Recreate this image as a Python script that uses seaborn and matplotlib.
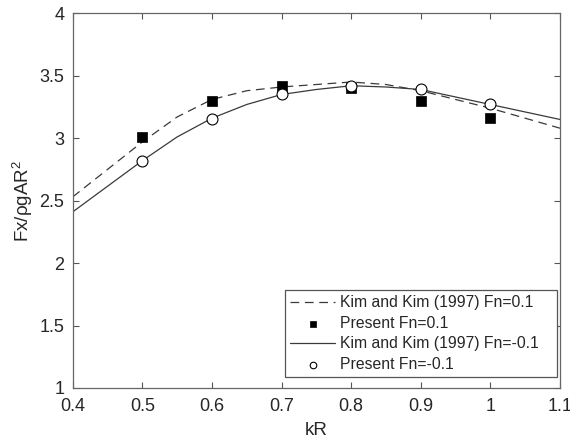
import numpy as np
import pandas as pd
import matplotlib
matplotlib.use("Agg")
import matplotlib.pyplot as plt
import seaborn as sns

# ---- data ----
kr_line = [0.40, 0.45, 0.50, 0.55, 0.60, 0.65, 0.70, 0.75, 0.80, 0.85, 0.90, 0.95, 1.00, 1.05, 1.10]
kim_fn_pos = [2.53, 2.75, 2.97, 3.17, 3.31, 3.38, 3.41, 3.43, 3.45, 3.43, 3.38, 3.31, 3.24, 3.16, 3.08]
kim_fn_neg = [2.41, 2.615, 2.82, 3.01, 3.16, 3.27, 3.35, 3.39, 3.42, 3.41, 3.39, 3.33, 3.27, 3.21, 3.15]

kr_pts = [0.5, 0.6, 0.7, 0.8, 0.9, 1.0]
present_fn_pos = [3.01, 3.30, 3.42, 3.405, 3.30, 3.16]
present_fn_neg = [2.82, 3.15, 3.35, 3.42, 3.39, 3.27]

labels = ["Kim and Kim (1997) Fn=0.1", "Present Fn=0.1",
          "Kim and Kim (1997) Fn=-0.1", "Present Fn=-0.1"]
x_ticks = [0.4, 0.5, 0.6, 0.7, 0.8, 0.9, 1.0, 1.1]
x_ticklabels = ["0.4", "0.5", "0.6", "0.7", "0.8", "0.9", "1", "1.1"]
y_ticks = [1, 1.5, 2, 2.5, 3, 3.5, 4]
y_ticklabels = ["1", "1.5", "2", "2.5", "3", "3.5", "4"]

sns.set_style("ticks")
plt.rcParams["font.family"] = ["Liberation Sans", "DejaVu Sans"]
plt.rcParams["mathtext.fontset"] = "custom"
plt.rcParams["mathtext.rm"] = "Liberation Sans"
plt.rcParams["mathtext.default"] = "regular"

fig = plt.figure(figsize=(5.70, 4.43), dpi=100)
ax = fig.add_axes([72.7 / 570, (443 - 388) / 443, (560 - 72.7) / 570, (388 - 13.3) / 443])

line_col = "#3a3a3a"
df_pos = pd.DataFrame({"kR": kr_line, "F": kim_fn_pos})
df_neg = pd.DataFrame({"kR": kr_line, "F": kim_fn_neg})
dp = pd.DataFrame({"kR": kr_pts, "F": present_fn_pos})
dn = pd.DataFrame({"kR": kr_pts, "F": present_fn_neg})

sns.lineplot(data=df_pos, x="kR", y="F", ax=ax, color=line_col, lw=0.9,
             dashes=False, label=labels[0], zorder=2)
ax.lines[-1].set_dashes((7, 4.5))
sns.lineplot(data=df_neg, x="kR", y="F", ax=ax, color=line_col, lw=0.9,
             label=labels[2], zorder=2)
sns.scatterplot(data=dp, x="kR", y="F", ax=ax, marker="s", s=55, color="black",
                edgecolor="black", linewidth=0.5, label=labels[1], zorder=3)
sns.scatterplot(data=dn, x="kR", y="F", ax=ax, marker="o", s=62, facecolor="white",
                edgecolor="black", linewidth=0.8, label=labels[3], zorder=3)

h, l = ax.get_legend_handles_labels()
hd = dict(zip(l, h))
leg = ax.legend([hd[t] for t in labels], [t + "   " for t in labels], loc="lower right",
                bbox_to_anchor=(0.993, 0.030), borderaxespad=0,
                fontsize=11.3, frameon=True, fancybox=False, framealpha=1,
                edgecolor="#555555", handlelength=2.9, handletextpad=0.3,
                labelspacing=0.36, borderpad=0.3, markerscale=0.6)
leg.get_frame().set_linewidth(0.9)

ax.set_xlim(0.4, 1.1)
ax.set_ylim(1, 4)
ax.set_xticks(x_ticks)
ax.set_xticklabels(x_ticklabels)
ax.set_yticks(y_ticks)
ax.set_yticklabels(y_ticklabels)
ax.tick_params(direction="in", length=4, width=0.8, colors="#555555",
               labelcolor="#262626", labelsize=13, top=True, right=True)
ax.tick_params(axis="x", pad=7)
ax.tick_params(axis="y", pad=6)
for sp in ax.spines.values():
    sp.set_visible(True)
    sp.set_color("#666666")
    sp.set_linewidth(0.9)

ax.set_xlabel("kR", fontsize=13.5, color="#262626", labelpad=5)
ax.set_ylabel("Fx/ρgAR$^{2}$", fontsize=13.5, color="#262626", labelpad=3)

fig.savefig("out.png", dpi=100)
